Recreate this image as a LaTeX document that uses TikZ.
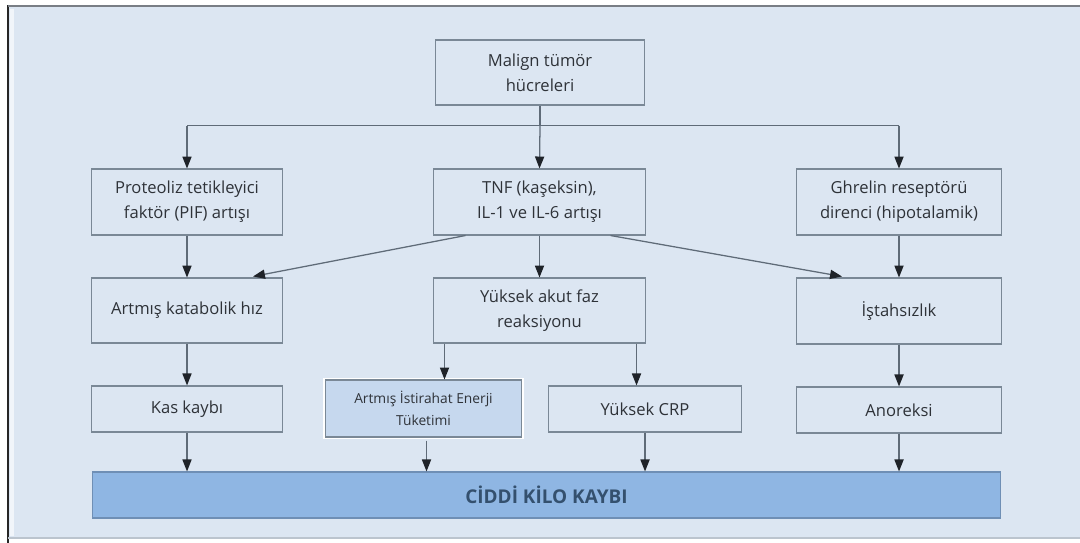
\documentclass[tikz,border=0pt]{standalone}
\usepackage{fontspec}
\setmainfont{Open Sans}
\usetikzlibrary{arrows.meta,calc}
\definecolor{panel}{HTML}{DCE6F2}
\definecolor{boxline}{HTML}{7A8896}
\definecolor{linkline}{HTML}{5F6B78}
\definecolor{tipcol}{HTML}{1F2329}
\definecolor{txt}{HTML}{2E3238}
\definecolor{energyfill}{HTML}{C6D8EE}
\definecolor{lossfill}{HTML}{8FB6E3}
\definecolor{lossline}{HTML}{6F8FB5}
\definecolor{losstxt}{HTML}{34506E}
\tikzset{
  boxw/.style={minimum width=#1*0.70866pt},
  boxh/.style={minimum height=#1*0.70866pt},
  stepbox/.style={draw=boxline, line width=0.9pt, fill=panel, align=center,
    text=txt, inner sep=0pt, font=\fontsize{11.8}{17.7}\selectfont},
  arr/.style={draw=linkline, line width=0.9pt,
    -{Triangle[length=8.5pt,width=6.5pt,color=tipcol,fill=tipcol]}},
  link/.style={draw=linkline, line width=0.9pt}
}
\begin{document}
\begin{tikzpicture}[x=0.025cm, y=-0.025cm]
\useasboundingbox (0,0) rectangle (1080,543);
% panel and frame
\fill[white] (0,0) rectangle (1080,543);
\fill[panel] (8,6) rectangle (1080,539);
\draw[white!60!panel, line width=3pt] (12,9) -- (12,536);
\draw[black!85, line width=1.3pt] (8,5) -- (8,543);
\draw[black!45!panel, line width=1.5pt] (8,6) -- (1080,6);
\draw[black!15!panel, line width=1.2pt] (8,538) -- (1080,538);

% boxes
\node[stepbox, boxw=210, boxh=65] (malign) at (540,72.5) {Malign tümör\\hücreleri};
\node[stepbox, boxw=192, boxh=66] (pif) at (187,202) {Proteoliz tetikleyici\\faktör (PIF) artışı};
\node[stepbox, boxw=213, boxh=66] (tnf) at (539.5,202) {TNF (kaşeksin),\\IL-1 ve IL-6 artışı};
\node[stepbox, boxw=206, boxh=66] (ghr) at (899,202) {Ghrelin reseptörü\\direnci (hipotalamik)};
\node[stepbox, boxw=192, boxh=65] (kat) at (187,310.5) {Artmış katabolik hız};
\node[stepbox, boxw=213, boxh=65] (akut) at (539.5,310.5) {Yüksek akut faz\\reaksiyonu};
\node[stepbox, boxw=206, boxh=66] (istah) at (899,311) {İştahsızlık};
\node[stepbox, boxw=192, boxh=46] (kas) at (187,409) {Kas kaybı};
\node[stepbox, boxw=197, boxh=57, fill=energyfill,
  preaction={draw=white, line width=3.5pt},
  font=\fontsize{9.8}{15.5}\selectfont] (enerji) at (423.5,408.5) {Artmış İstirahat Enerji\\Tüketimi};
\node[stepbox, boxw=194, boxh=46] (crp) at (645,409) {Yüksek CRP};
\node[stepbox, boxw=206, boxh=46] (anor) at (899,410) {Anoreksi};
\node[stepbox, boxw=911, boxh=46, fill=lossfill, draw=lossline,
  text=losstxt, font=\fontsize{13.5}{16}\selectfont\bfseries] (kilo) at (546.5,495) {CİDDİ KİLO KAYBI};

% tumour cells fan out to the three mediators
\coordinate (split) at ($(malign.south)+(0,20)$);
\draw[link] (malign.south) -- (split);
\draw[link] (pif.north |- split) -- (ghr.north |- split);
\draw[arr] (pif.north |- split) -- (pif.north);
\draw[arr] (split) -- (tnf.north);
\draw[arr] (ghr.north |- split) -- (ghr.north);

% mediators to second row
\draw[arr] (pif.south) -- (kat.north);
\draw[arr] (tnf.south) -- (akut.north);
\draw[arr] (ghr.south) -- (istah.north);
\coordinate (tnfL) at ($(tnf.south)+(-74,0)$);
\coordinate (tnfR) at ($(tnf.south)+(71,0)$);
\coordinate (katIn) at ($(kat.north)+(66,-1)$);
\coordinate (istahIn) at ($(istah.north)+(-57,-1)$);
\draw[arr] (tnfL) -- (katIn);
\draw[arr] (tnfR) -- (istahIn);

% second row to third row
\draw[arr] (kat.south) -- (kas.north);
\coordinate (akL) at ($(akut.south)+(-95,0)$);
\coordinate (akR) at ($(akut.south)+(97,0)$);
\draw[arr] (akL) -- (akL |- enerji.north);
\draw[arr] (akR) -- (akR |- crp.north);
\draw[arr] (istah.south) -- (anor.north);

% everything ends in weight loss
\draw[arr] (kas.south) -- (kas.south |- kilo.north);
\coordinate (enL) at ($(enerji.south)+(3,3)$);
\draw[arr] (enL) -- (enL |- kilo.north);
\draw[arr] (crp.south) -- (crp.south |- kilo.north);
\draw[arr] (anor.south) -- (anor.south |- kilo.north);
\end{tikzpicture}
\end{document}
